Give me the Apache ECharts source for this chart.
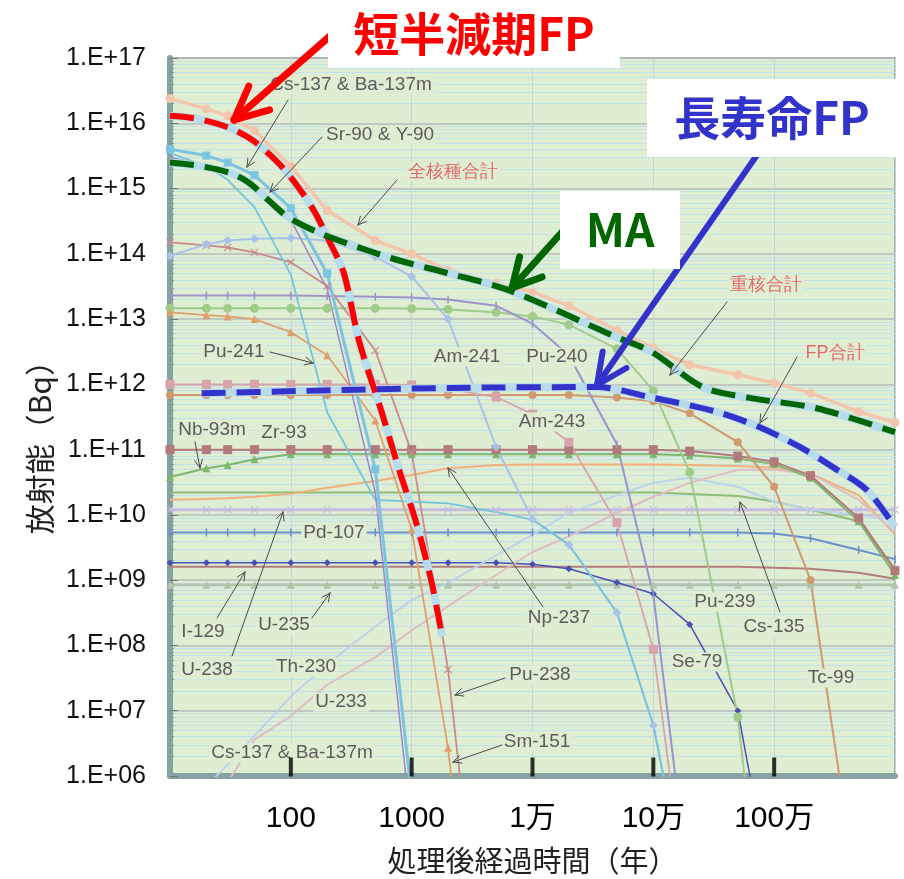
<!DOCTYPE html>
<html>
<head>
<meta charset="utf-8">
<title>放射能の経時変化</title>
<script src="https://cdn.jsdelivr.net/npm/echarts@6/dist/echarts.min.js"></script>
<style>
html, body { margin: 0; padding: 0; background: #fff; }
#chart-container { width: 904px; height: 879px; }
</style>
</head>
<body>
<div id="chart-container"></div>
<script>
// 処理後経過時間(年) sample points of the nuclide curves
var years = [10, 20, 30, 50, 100, 200, 500, 1000, 2000, 5000, 1e4, 2e4, 5e4, 1e5, 2e5, 5e5, 1e6, 2e6, 5e6, 1e7];

// 放射能(Bq) per nuclide (same order as years)
var total  = [2.4e16, 1.66e16, 1.3e16, 7.7e15, 2.2e15, 4.6e14, 1.6e14, 1.0e14, 5.6e13, 3.5e13, 2.6e13, 1.6e13, 6.7e12, 3.6e12, 2.0e12, 1.4e12, 1.05e12, 7.4e11, 3.8e11, 2.6e11];
var cs137  = [4.0e15, 3.2e15, 2.5e15, 1.6e15, 5.0e14, 5.0e13, 5.0e10, 5.0e5];
var sr90   = [3.0e15, 2.3e15, 1.8e15, 1.1e15, 3.3e14, 2.9e13, 2.2e10, 1.5e5];
var pu241  = [3.5e15, 2.2e15, 1.36e15, 5.2e14, 4.8e13, 3.7e11, 1.7e10, 1.6e10, 1.5e10, 1.1e10, 8.5e9, 3.5e9, 3.2e8, 6.0e6, 1.0e4];
var am241  = [9.3e13, 1.4e14, 1.6e14, 1.7e14, 1.75e14, 1.6e14, 9.0e13, 4.5e13, 1.0e13, 1.1e11, 8.5e9, 3.5e9, 3.2e8, 6.0e6, 1.0e4];
var pu238  = [1.5e14, 1.35e14, 1.25e14, 1.05e14, 7.4e13, 3.2e13, 3.3e12, 9.0e10, 4.3e7, 10];
var sm151  = [1.27e13, 1.15e13, 1.1e13, 1.0e13, 6.3e12, 2.8e12, 2.8e11, 6.0e9, 2.7e6, 1];
var pu240  = [2.3e13, 2.3e13, 2.3e13, 2.3e13, 2.3e13, 2.25e13, 2.2e13, 2.15e13, 2.0e13, 1.6e13, 8.5e12, 2.8e12, 1.2e11, 6.0e8, 1.5e4];
var pu239  = [1.46e13, 1.46e13, 1.46e13, 1.46e13, 1.46e13, 1.46e13, 1.46e13, 1.45e13, 1.4e13, 1.27e13, 1.1e13, 8.2e12, 3.5e12, 8.0e11, 4.5e10, 8.0e6, 100];
var am243  = [1.0e12, 1.0e12, 1.0e12, 1.0e12, 1.0e12, 1.0e12, 1.0e12, 9.8e11, 8.5e11, 6.4e11, 3.5e11, 1.3e11, 7.6e9, 8.7e7, 5.0e3];
var tc99   = [6.9e11, 6.9e11, 6.9e11, 6.9e11, 6.9e11, 6.9e11, 6.9e11, 6.9e11, 6.9e11, 6.9e11, 6.9e11, 6.9e11, 6.3e11, 5.5e11, 3.6e11, 1.3e11, 2.7e10, 1.0e9, 1.0e4];
var zr93   = [1e11, 1e11, 1e11, 1e11, 1e11, 1e11, 1e11, 1e11, 1e11, 1e11, 1e11, 1e11, 1e11, 1e11, 9.5e10, 8.0e10, 6.5e10, 4.0e10, 9.0e9, 1.4e9];
var nb93m  = [3.8e10, 5.2e10, 5.8e10, 7.1e10, 8.5e10, 8.5e10, 8.5e10, 8.5e10, 8.5e10, 8.5e10, 8.5e10, 8.5e10, 8.5e10, 8.5e10, 8.2e10, 7.3e10, 6.0e10, 3.7e10, 8.0e9, 1.2e9];
var np237  = [1.7e10, 1.75e10, 1.8e10, 1.9e10, 2.1e10, 2.6e10, 3.3e10, 4.1e10, 5.2e10, 5.8e10, 5.9e10, 5.9e10, 5.9e10, 5.9e10, 5.8e10, 5.6e10, 5.3e10, 4.3e10, 2.0e10, 5.0e9];
var cs135  = [2.2e10, 2.2e10, 2.2e10, 2.2e10, 2.2e10, 2.2e10, 2.2e10, 2.2e10, 2.2e10, 2.2e10, 2.2e10, 2.2e10, 2.2e10, 2.2e10, 2.1e10, 1.95e10, 1.6e10, 1.2e10, 8.0e9, 1.5e9];
var u238   = [1.2e10, 1.2e10, 1.2e10, 1.2e10, 1.2e10, 1.2e10, 1.2e10, 1.2e10, 1.2e10, 1.2e10, 1.2e10, 1.2e10, 1.2e10, 1.2e10, 1.2e10, 1.2e10, 1.2e10, 1.2e10, 1.2e10, 1.2e10];
var pd107  = [5.4e9, 5.4e9, 5.4e9, 5.4e9, 5.4e9, 5.4e9, 5.4e9, 5.4e9, 5.4e9, 5.4e9, 5.4e9, 5.4e9, 5.4e9, 5.4e9, 5.4e9, 5.4e9, 5.2e9, 4.4e9, 2.9e9, 2.1e9];
var se79   = [1.85e9, 1.85e9, 1.85e9, 1.85e9, 1.85e9, 1.85e9, 1.85e9, 1.85e9, 1.85e9, 1.85e9, 1.75e9, 1.5e9, 9.2e8, 6.2e8, 2.1e8, 1.0e7, 1.0e4];
var i129   = [1.6e9, 1.6e9, 1.6e9, 1.6e9, 1.6e9, 1.6e9, 1.6e9, 1.6e9, 1.6e9, 1.6e9, 1.6e9, 1.6e9, 1.6e9, 1.6e9, 1.6e9, 1.6e9, 1.55e9, 1.5e9, 1.3e9, 1.05e9];
var u235   = [8.5e8, 8.5e8, 8.5e8, 8.5e8, 8.5e8, 8.5e8, 8.5e8, 8.5e8, 8.5e8, 8.5e8, 8.5e8, 8.5e8, 8.5e8, 8.5e8, 8.5e8, 8.5e8, 8.5e8, 8.5e8, 8.5e8, 8.5e8];
var th230  = [null, 7.0e5, 1.5e6, 4.1e6, 1.66e7, 5.1e7, 1.95e8, 5.0e8, 9.1e8, 2.4e9, 5.0e9, 1.07e10, 2.0e10, 3.1e10, 3.7e10, 2.7e10, 1.6e10, 1.2e10, 1.0e10, 8.5e9];
var u233   = [null, null, 8.0e5, 3.6e6, 8.3e6, 2.5e7, 6.6e7, 1.7e8, 4.0e8, 1.2e9, 2.7e9, 4.7e9, 1.07e10, 1.9e10, 3.1e10, 4.9e10, 4.9e10, 4.3e10, 1.7e10, 5.4e9];

// hand drawn group curves (dashed overlays)
var shortFpYears = [10, 17, 31, 49, 80, 116, 155, 207, 275, 366, 569, 787, 1090, 1450, 1790];
var shortFp      = [1.3e16, 1.17e16, 8.5e15, 5.4e15, 2.4e15, 1.03e15, 4.6e14, 1.6e14, 5.0e13, 4.7e12, 3.6e11, 4.9e10, 7.6e9, 1.0e9, 1.37e8];
var maYears = [10, 17, 31, 45, 66, 96, 171, 366, 787, 2040, 6420, 49500, 98000, 256000, 628000, 2.25e6, 1e7];
var ma      = [2.5e15, 2.24e15, 1.75e15, 1.23e15, 6.5e14, 3.6e14, 2.1e14, 1.25e14, 7.9e13, 5.0e13, 2.75e13, 5.3e12, 3.1e12, 9.1e11, 6.2e11, 4.3e11, 1.85e11];
var longFpYears = [18.3, 116, 2040, 33800, 93000, 334000, 760000, 1.63e6, 3.06e6, 5.86e6, 1e7];
var longFp      = [7.3e11, 7.9e11, 8.8e11, 9.1e11, 6.4e11, 3.8e11, 2.2e11, 1.1e11, 5.4e10, 2.4e10, 6.5e9];

// tick labels
var xTickValues = [100, 1000, 1e4, 1e5, 1e6];
var xTickLabels = ['100', '1000', '1万', '10万', '100万'];
var yTickLabels = ['1.E+06', '1.E+07', '1.E+08', '1.E+09', '1.E+10', '1.E+11', '1.E+12', '1.E+13', '1.E+14', '1.E+15', '1.E+16', '1.E+17'];

var dom = document.getElementById('chart-container');
var myChart = echarts.init(dom, null, { renderer: 'canvas' });

var LATIN = '"Liberation Sans", Arial, sans-serif';
var CJK = '"Noto Sans CJK JP", sans-serif';
var CROSS = 'path://M0,1L1,0L5,4L9,0L10,1L6,5L10,9L9,10L5,6L1,10L0,9L4,5Z';

function pairs(xs, ys) {
    var out = [];
    for (var i = 0; i < ys.length; i++) {
        if (ys[i] != null) out.push([xs[i], ys[i]]);
    }
    return out;
}

function curve(name, values, color, width, symbol, size) {
    return {
        type: 'line', name: name, data: pairs(years, values),
        lineStyle: { color: color, width: width },
        itemStyle: { color: color },
        symbol: symbol || 'none', symbolSize: size || 0, showSymbol: !!symbol,
        silent: true, z: 2
    };
}

function dashed(name, xs, ys, color) {
    return [
        { type: 'line', name: name + '_under', data: pairs(xs, ys), symbol: 'none', smooth: 0.3,
          lineStyle: { color: '#b9dced', width: 8 }, silent: true, z: 4 },
        { type: 'line', name: name, data: pairs(xs, ys), symbol: 'none', smooth: 0.3,
          lineStyle: { color: color, width: 6, type: [24, 11] }, silent: true, z: 5 }
    ];
}

var series = [
    curve('U-235', u235, '#b3c4ab', 2.5, 'triangle', 8),
    curve('I-129', i129, '#b47d7d', 2),
    curve('Se-79', se79, '#4b4fb2', 1.5, 'diamond', 7),
    curve('Pd-107', pd107, '#6b90c9', 2, 'rect', [1.5, 8]),
    curve('U-238', u238, '#c4bde0', 3, CROSS, 8),
    curve('Cs-135', cs135, '#8fbc76', 2),
    curve('Np-237', np237, '#f2b07c', 2),
    curve('Th-230', th230, '#bcd3ec', 2),
    curve('U-233', u233, '#dfbcc4', 2),
    curve('Nb-93m', nb93m, '#7db76c', 2, 'triangle', 8),
    curve('Zr-93', zr93, '#b27a7a', 2, 'rect', 9),
    curve('Tc-99', tc99, '#cf9a6e', 2, 'circle', 8),
    curve('Am-243', am243, '#d9a3ab', 1.8, 'rect', 9),
    curve('Pu-239', pu239, '#9fcc8a', 2, 'circle', 9),
    curve('Pu-240', pu240, '#9b94cc', 2, 'rect', [1.5, 8]),
    curve('Sm-151', sm151, '#dfa06c', 1.8, 'triangle', 8),
    curve('Pu-238', pu238, '#c88c8c', 1.8, CROSS, 8),
    curve('Am-241', am241, '#a9c3e8', 2, 'diamond', 9),
    curve('Pu-241', pu241, '#72c6dc', 1.8),
    curve('Sr-90 & Y-90', sr90, '#9d86c9', 1.5),
    curve('Cs-137 & Ba-137m', cs137, '#7cc4e0', 3, 'rect', 8),
    curve('全核種合計', total, '#f3c6ac', 3.5, 'circle', 9)
];
series = series.concat(dashed('短半減期FP', shortFpYears, shortFp, '#ff0000'));
series = series.concat(dashed('MA', maYears, ma, '#006600'));
series = series.concat(dashed('長寿命FP', longFpYears, longFp, '#3333cc'));
// thick black ticks on the time axis
series.push({
    type: 'scatter', name: 'ticks', data: xTickValues.map(function (v) { return [v, 1e6]; }),
    symbol: 'rect', symbolSize: [4, 19], symbolOffset: [0, -9], itemStyle: { color: '#000' },
    clip: false, silent: true, z: 30
});

function label(text, x, y, color, size) {
    return {
        type: 'text', x: x, y: y, z: 8, silent: true,
        style: { text: text, fill: color || '#5c5c5c', fontSize: size || 19, fontFamily: LATIN,
                 align: 'center', verticalAlign: 'middle',
                 backgroundColor: '#dfeed3', padding: [0, 2] }
    };
}

function arrow(x1, y1, x2, y2, color, width, head, spread, z) {
    var ang = Math.atan2(y2 - y1, x2 - x1);
    var st = { stroke: color, lineWidth: width, lineCap: 'round' };
    var els = [{ type: 'line', z: z, silent: true, shape: { x1: x1, y1: y1, x2: x2, y2: y2 }, style: st }];
    [-spread, spread].forEach(function (s) {
        els.push({ type: 'line', z: z, silent: true, style: st, shape: {
            x1: x2, y1: y2,
            x2: x2 - head * Math.cos(ang + s), y2: y2 - head * Math.sin(ang + s) } });
    });
    return els;
}

function box(text, x, y, w, h, color) {
    return [
        { type: 'rect', z: 21, silent: true, shape: { x: x, y: y, width: w, height: h }, style: { fill: '#fff' } },
        { type: 'text', z: 22, silent: true, x: x + w / 2, y: y + h / 2,
          style: { text: text, fill: color, fontSize: 46, fontWeight: 'bold',
                   fontFamily: '"Noto Sans CJK JP", "Liberation Sans", sans-serif',
                   align: 'center', verticalAlign: 'middle' } }
    ];
}

var G = '#4a4a4a';
var graphics = [
    label('Cs-137 & Ba-137m', 351, 85),
    label('Sr-90 & Y-90', 380, 135),
    label('全核種合計', 453, 172, '#e26a6a', 18),
    label('重核合計', 766, 285, '#e26a6a', 18),
    label('FP合計', 835, 353, '#e26a6a', 18),
    label('Pu-241', 234, 352),
    label('Am-241', 467, 357),
    label('Pu-240', 557, 357),
    label('Am-243', 552, 422),
    label('Nb-93m', 212, 430),
    label('Zr-93', 284, 433),
    label('Pd-107', 334, 533),
    label('I-129', 203, 632),
    label('U-238', 207, 670),
    label('U-235', 284, 625),
    label('Th-230', 306, 667),
    label('U-233', 341, 702),
    label('Cs-137 & Ba-137m', 292, 753),
    label('Np-237', 559, 618),
    label('Pu-238', 540, 675),
    label('Sm-151', 537, 742),
    label('Pu-239', 725, 602),
    label('Cs-135', 774, 627),
    label('Se-79', 697, 662),
    label('Tc-99', 831, 678),
    {
        type: 'text', x: 40, y: 440, rotation: Math.PI / 2, silent: true,
        style: { text: '放射能（Bq）', fill: '#222', fontSize: 30, fontFamily: CJK,
                 align: 'center', verticalAlign: 'middle' }
    }
];
graphics = graphics
    .concat(arrow(288, 100, 247, 167, G, 1, 9, 0.45, 9))
    .concat(arrow(322, 137, 270, 192, G, 1, 9, 0.45, 9))
    .concat(arrow(397, 180, 358, 225, G, 1, 9, 0.45, 9))
    .concat(arrow(727, 302, 670, 375, G, 1, 9, 0.45, 9))
    .concat(arrow(797, 357, 760, 423, G, 1, 9, 0.45, 9))
    .concat(arrow(270, 352, 313, 363, G, 1, 9, 0.45, 9))
    .concat(arrow(195, 442, 200, 468, G, 1, 9, 0.45, 9))
    .concat(arrow(217, 618, 245, 572, G, 1, 9, 0.45, 9))
    .concat(arrow(232, 656, 283, 512, G, 1, 9, 0.45, 9))
    .concat(arrow(312, 618, 330, 593, G, 1, 9, 0.45, 9))
    .concat(arrow(543, 607, 448, 468, G, 1, 9, 0.45, 9))
    .concat(arrow(505, 678, 455, 695, G, 1, 9, 0.45, 9))
    .concat(arrow(502, 745, 453, 762, G, 1, 9, 0.45, 9))
    .concat(arrow(780, 612, 740, 502, G, 1, 9, 0.45, 9))
    .concat(arrow(330, 36, 234, 120, '#ff0000', 7, 37, 0.44, 20))
    .concat(arrow(562, 232, 512, 288, '#006600', 7, 32, 0.49, 20))
    .concat(arrow(757, 155, 597, 385, '#3333cc', 6, 34, 0.44, 20))
    .concat(box('短半減期FP', 328, 0, 292, 68, '#ff0000'))
    .concat(box('長寿命FP', 647, 79, 250, 78, '#3333cc'))
    .concat(box('MA', 560, 191, 120, 78, '#006600'));

var option = {
    animation: false,
    backgroundColor: '#fff',
    grid: {
        left: 170, top: 58, width: 725, height: 718,
        show: true, backgroundColor: '#dfeed3', borderColor: '#a4acac', borderWidth: 2,
        outerBoundsMode: 'none'
    },
    xAxis: {
        type: 'log', logBase: 10, min: 10, max: 1e7, splitNumber: 6,
        name: '処理後経過時間（年）', nameLocation: 'middle', nameGap: 70,
        nameTextStyle: { fontSize: 29, fontFamily: CJK, color: '#222' },
        axisLine: { show: true, lineStyle: { color: '#87a2a3', width: 6 } },
        axisTick: { show: false },
        axisLabel: {
            margin: 28, fontSize: 30, color: '#000', fontFamily: LATIN + ', ' + CJK,
            showMinLabel: false, showMaxLabel: false,
            formatter: function (v) {
                for (var i = 0; i < xTickValues.length; i++) {
                    if (Math.abs(Math.log10(v) - Math.log10(xTickValues[i])) < 1e-6) return xTickLabels[i];
                }
                return '';
            }
        },
        splitLine: { show: true, lineStyle: { color: '#c6d4da', width: 1 } }
    },
    yAxis: {
        type: 'log', logBase: 10, min: 1e6, max: 1e17, interval: 1, splitNumber: 11,
        axisLine: { show: true, lineStyle: { color: '#87a2a3', width: 6 } },
        axisTick: { show: true, inside: true, length: 8, lineStyle: { color: '#6d7a7a' } },
        minorTick: { show: true, splitNumber: 9, length: 4, lineStyle: { color: '#8a9595' } },
        axisLabel: {
            margin: 24, fontSize: 25, color: '#111', fontFamily: LATIN,
            formatter: function (v) {
                var e = Math.round(Math.log10(v));
                return yTickLabels[e - 6] || '';
            }
        },
        splitLine: { show: true, lineStyle: { color: '#b4bcbc', width: 1.5 } },
        minorSplitLine: { show: true, lineStyle: { color: '#c3e2ea', width: 1 } }
    },
    series: series,
    graphic: { elements: graphics }
};

if (option && typeof option === 'object') {
    myChart.setOption(option);
}

window.addEventListener('resize', myChart.resize);
</script>
</body>
</html>
